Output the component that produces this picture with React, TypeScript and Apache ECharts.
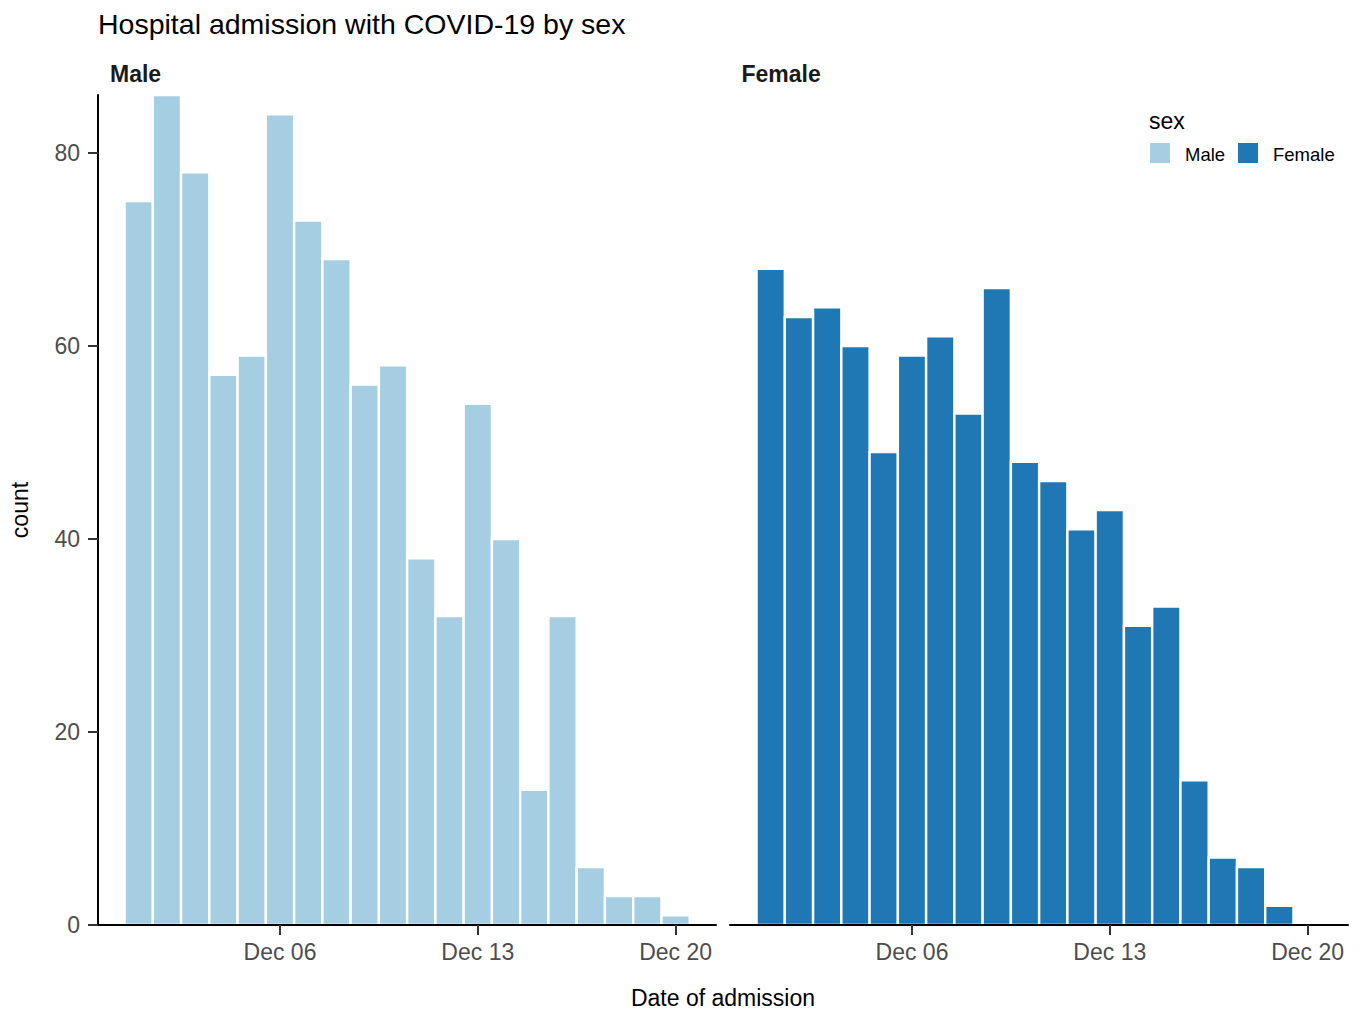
import React, { useEffect, useRef } from "react";
import * as echarts from "echarts";

// ---- data ----
const maleDays = [1, 2, 3, 4, 5, 6, 7, 8, 9, 10, 11, 12, 13, 14, 15, 16, 17, 18, 19, 20];
const maleCounts = [75, 86, 78, 57, 59, 84, 73, 69, 56, 58, 38, 32, 54, 40, 14, 32, 6, 3, 3, 1];
const femaleDays = [1, 2, 3, 4, 5, 6, 7, 8, 9, 10, 11, 12, 13, 14, 15, 16, 17, 18, 19];
const femaleCounts = [68, 63, 64, 60, 49, 59, 61, 53, 66, 48, 46, 41, 43, 31, 33, 15, 7, 6, 2];
const xTickDays = [6, 13, 20];
const xTickLabels = ["Dec 06", "Dec 13", "Dec 20"];
const yTicks = [0, 20, 40, 60, 80];
const facetNames = ["Male", "Female"];
const sexColors = ["#A6CEE3", "#1F78B4"];

const FONT = "'Liberation Sans', Arial, Helvetica, sans-serif";

function makeXAxis(gridIndex: number) {
  return {
    type: "value",
    gridIndex,
    min: -0.44,
    max: 21.43,
    z: 10,
    axisLine: { show: true, onZero: false, lineStyle: { color: "#000", width: 2 } },
    axisTick: {
      show: true,
      customValues: xTickDays,
      length: 10,
      lineStyle: { color: "#333", width: 2 },
    },
    axisLabel: {
      show: true,
      customValues: xTickDays,
      formatter: (v: number) => {
        const i = xTickDays.indexOf(Math.round(v));
        return i >= 0 ? xTickLabels[i] : "";
      },
      color: "#4D4D4D",
      fontSize: 23,
      fontFamily: FONT,
      margin: 15,
    },
    splitLine: { show: false },
  };
}

function makeSeries(idx: number, days: number[], counts: number[]) {
  const color = sexColors[idx];
  return {
    type: "custom",
    name: facetNames[idx],
    xAxisIndex: idx,
    yAxisIndex: idx,
    data: days.map((d, i) => [d, counts[i]]),
    encode: { x: 0, y: 1 },
    renderItem: (params: any, api: any) => {
      const d = api.value(0);
      const v = api.value(1);
      const p0 = api.coord([d - 0.5, v]);
      const p1 = api.coord([d + 0.5, 0]);
      return {
        type: "rect",
        shape: { x: p0[0], y: p0[1], width: p1[0] - p0[0], height: p1[1] - p0[1] },
        style: { fill: color, stroke: "#ffffff", lineWidth: 2.4 },
      };
    },
  };
}

function txt(text: string, x: number, y: number, fontSize: number, opts: any = {}) {
  const align = opts.align || "left";
  return {
    type: "text",
    x,
    y,
    rotation: opts.rotation || 0,
    z: 20,
    style: {
      text,
      fontSize,
      fontFamily: FONT,
      fontWeight: opts.bold ? "bold" : "normal",
      fill: opts.fill || "#000",
      align,
      verticalAlign: "middle",
      textAlign: align,
      textVerticalAlign: "middle",
    },
  };
}

export default function App() {
  const ref = useRef<HTMLDivElement>(null);

  useEffect(() => {
    if (!ref.current) return;
    const chart = echarts.init(ref.current, null, { renderer: "svg" });
    const option: any = {
      animation: false,
      backgroundColor: "#ffffff",
      textStyle: { fontFamily: FONT },
      grid: [
        { left: 98, top: 95, width: 618, height: 830 },
        { left: 730, top: 95, width: 618, height: 830 },
      ],
      xAxis: [makeXAxis(0), makeXAxis(1)],
      yAxis: [
        {
          type: "value",
          gridIndex: 0,
          min: 0,
          max: 86,
          z: 10,
          axisLine: { show: true, onZero: false, lineStyle: { color: "#000", width: 2 } },
          axisTick: {
            show: true,
            customValues: yTicks,
            length: 10,
            lineStyle: { color: "#333", width: 2 },
          },
          axisLabel: {
            show: true,
            customValues: yTicks,
            color: "#4D4D4D",
            fontSize: 23,
            fontFamily: FONT,
            margin: 18,
          },
          splitLine: { show: false },
        },
        {
          type: "value",
          gridIndex: 1,
          min: 0,
          max: 86,
          show: false,
          splitLine: { show: false },
        },
      ],
      series: [makeSeries(0, maleDays, maleCounts), makeSeries(1, femaleDays, femaleCounts)],
      graphic: [
        txt("Hospital admission with COVID-19 by sex", 98, 23.5, 28.5),
        txt(facetNames[0], 110, 73.5, 23, { bold: true, fill: "#1A1A1A" }),
        txt(facetNames[1], 741.5, 73.5, 23, { bold: true, fill: "#1A1A1A" }),
        txt("count", 19.5, 510, 23, { align: "center", rotation: Math.PI / 2 }),
        txt("Date of admission", 723, 998, 23, { align: "center" }),
        txt("sex", 1149, 120.5, 23),
        {
          type: "rect",
          z: 20,
          shape: { x: 1150, y: 143, width: 20, height: 20 },
          style: { fill: sexColors[0] },
        },
        txt(facetNames[0], 1185, 154, 18.5),
        {
          type: "rect",
          z: 20,
          shape: { x: 1238, y: 143, width: 20, height: 20 },
          style: { fill: sexColors[1] },
        },
        txt(facetNames[1], 1273, 154, 18.5),
      ],
    };
    chart.setOption(option);
    return () => chart.dispose();
  }, []);

  return (
    <div
      ref={ref}
      style={{ position: "absolute", left: 0, top: 0, width: 1362, height: 1010 }}
    />
  );
}
